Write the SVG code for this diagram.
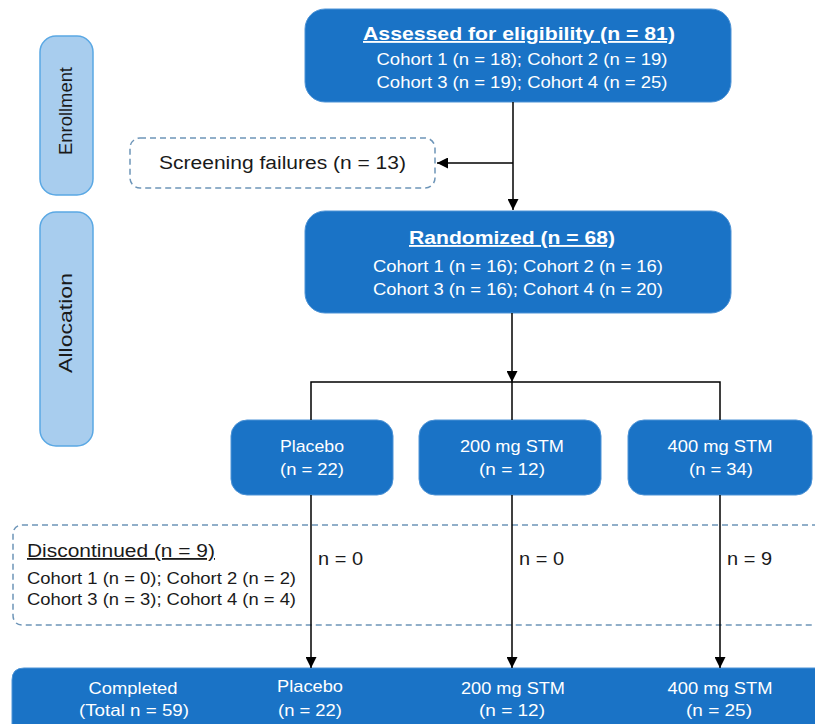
<svg xmlns="http://www.w3.org/2000/svg" width="815" height="724" viewBox="0 0 815 724">
<defs>
<marker id="ah" viewBox="0 0 10 10" refX="10" refY="5" markerWidth="11" markerHeight="11" markerUnits="userSpaceOnUse" orient="auto">
<path d="M0,0 L10,5 L0,10 Z" fill="#000"/>
</marker>
<style>
.box{fill:#1a73c6;stroke:#4d93d6;stroke-width:1}
.tab{fill:#a8cdee;stroke:#5aa8e4;stroke-width:1.5}
.dash{fill:none;stroke:#6d95b8;stroke-width:1.5;stroke-dasharray:6 4}
.w{fill:#fff;font-family:"Liberation Sans",Arial,sans-serif;text-anchor:middle}
.k{fill:#1a1a1a;font-family:"Liberation Sans",Arial,sans-serif}
.t{font-weight:bold;text-decoration:underline}
.ln{stroke:#000;stroke-width:1.5;fill:none}
</style>
</defs>
<rect width="815" height="724" fill="#fff"/>

<g id="tab-enrollment">
<rect class="tab" x="40" y="36" width="53" height="159" rx="16"/>
<text class="k" x="0" y="0" font-size="18" text-anchor="middle" transform="translate(72,111) rotate(-90)" textLength="88" lengthAdjust="spacingAndGlyphs">Enrollment</text>
</g>
<g id="tab-allocation">
<rect class="tab" x="40" y="212" width="53" height="234" rx="16"/>
<text class="k" x="0" y="0" font-size="18" text-anchor="middle" transform="translate(72,323) rotate(-90)" textLength="100" lengthAdjust="spacingAndGlyphs">Allocation</text>
</g>

<g id="assessed">
<rect class="box" x="305" y="9" width="426" height="93" rx="20"/>
<text class="w t" x="519" y="40" font-size="18.5" textLength="312" lengthAdjust="spacingAndGlyphs">Assessed for eligibility (n = 81)</text>
<text class="w" x="522" y="65" font-size="16.5" textLength="291" lengthAdjust="spacingAndGlyphs">Cohort 1 (n = 18); Cohort 2 (n = 19)</text>
<text class="w" x="522" y="88" font-size="16.5" textLength="291" lengthAdjust="spacingAndGlyphs">Cohort 3 (n = 19); Cohort 4 (n = 25)</text>
</g>

<g id="screening">
<rect class="dash" x="130" y="138" width="305" height="50" rx="10"/>
<text class="k" x="159" y="169" font-size="18" textLength="247" lengthAdjust="spacingAndGlyphs">Screening failures (n = 13)</text>
</g>

<g id="randomized">
<rect class="box" x="305" y="211" width="426" height="102" rx="20"/>
<text class="w t" x="512" y="244" font-size="18.5" textLength="206" lengthAdjust="spacingAndGlyphs">Randomized (n = 68)</text>
<text class="w" x="518" y="272" font-size="16.5" textLength="290" lengthAdjust="spacingAndGlyphs">Cohort 1 (n = 16); Cohort 2 (n = 16)</text>
<text class="w" x="518" y="295" font-size="16.5" textLength="290" lengthAdjust="spacingAndGlyphs">Cohort 3 (n = 16); Cohort 4 (n = 20)</text>
</g>

<g id="placebo">
<rect class="box" x="231" y="420" width="162" height="75" rx="16"/>
<text class="w" x="312" y="452" font-size="17" textLength="64" lengthAdjust="spacingAndGlyphs">Placebo</text>
<text class="w" x="312" y="475" font-size="17" textLength="64" lengthAdjust="spacingAndGlyphs">(n = 22)</text>
</g>
<g id="stm200">
<rect class="box" x="419" y="420" width="182" height="75" rx="16"/>
<text class="w" x="512" y="452" font-size="17" textLength="104" lengthAdjust="spacingAndGlyphs">200 mg STM</text>
<text class="w" x="512" y="475" font-size="17" textLength="66" lengthAdjust="spacingAndGlyphs">(n = 12)</text>
</g>
<g id="stm400">
<rect class="box" x="628" y="420" width="184" height="75" rx="16"/>
<text class="w" x="720" y="452" font-size="17" textLength="105" lengthAdjust="spacingAndGlyphs">400 mg STM</text>
<text class="w" x="721" y="475" font-size="17" textLength="64" lengthAdjust="spacingAndGlyphs">(n = 34)</text>
</g>

<g id="discontinued">
<path class="dash" d="M818,525 H23 Q13,525 13,535 V615 Q13,625 23,625 H818"/>
<text class="k" x="27" y="557" font-size="18" text-decoration="underline" textLength="188" lengthAdjust="spacingAndGlyphs">Discontinued (n = 9)</text>
<text class="k" x="27" y="584" font-size="16" textLength="269" lengthAdjust="spacingAndGlyphs">Cohort 1 (n = 0); Cohort 2 (n = 2)</text>
<text class="k" x="27" y="605" font-size="16" textLength="269" lengthAdjust="spacingAndGlyphs">Cohort 3 (n = 3); Cohort 4 (n = 4)</text>
</g>

<g id="completed">
<path class="box" d="M12,730 V680 Q12,668 24,668 H830 V730 Z"/>
<text class="w" x="133" y="694" font-size="17" textLength="89" lengthAdjust="spacingAndGlyphs">Completed</text>
<text class="w" x="134" y="716" font-size="17" textLength="110" lengthAdjust="spacingAndGlyphs">(Total n = 59)</text>
<text class="w" x="310" y="692" font-size="17" textLength="66" lengthAdjust="spacingAndGlyphs">Placebo</text>
<text class="w" x="310" y="716" font-size="17" textLength="64" lengthAdjust="spacingAndGlyphs">(n = 22)</text>
<text class="w" x="513" y="694" font-size="17" textLength="104" lengthAdjust="spacingAndGlyphs">200 mg STM</text>
<text class="w" x="512" y="716" font-size="17" textLength="66" lengthAdjust="spacingAndGlyphs">(n = 12)</text>
<text class="w" x="720" y="694" font-size="17" textLength="105" lengthAdjust="spacingAndGlyphs">400 mg STM</text>
<text class="w" x="719" y="716" font-size="17" textLength="66" lengthAdjust="spacingAndGlyphs">(n = 25)</text>
</g>

<g id="connectors">
<line class="ln" x1="513" y1="102" x2="513" y2="210" marker-end="url(#ah)"/>
<line class="ln" x1="513" y1="163" x2="437" y2="163" marker-end="url(#ah)"/>
<line class="ln" x1="512" y1="313" x2="512" y2="382" marker-end="url(#ah)"/>
<polyline class="ln" points="311,420 311,382 720,382 720,420"/>
<line class="ln" x1="512" y1="382" x2="512" y2="420"/>
<line class="ln" x1="311" y1="495" x2="311" y2="668" marker-end="url(#ah)"/>
<line class="ln" x1="512" y1="495" x2="512" y2="668" marker-end="url(#ah)"/>
<line class="ln" x1="720" y1="495" x2="720" y2="668" marker-end="url(#ah)"/>
<text class="k" x="318" y="565" font-size="19" textLength="45" lengthAdjust="spacingAndGlyphs">n = 0</text>
<text class="k" x="519" y="565" font-size="19" textLength="45" lengthAdjust="spacingAndGlyphs">n = 0</text>
<text class="k" x="727" y="565" font-size="19" textLength="45" lengthAdjust="spacingAndGlyphs">n = 9</text>
</g>
</svg>
